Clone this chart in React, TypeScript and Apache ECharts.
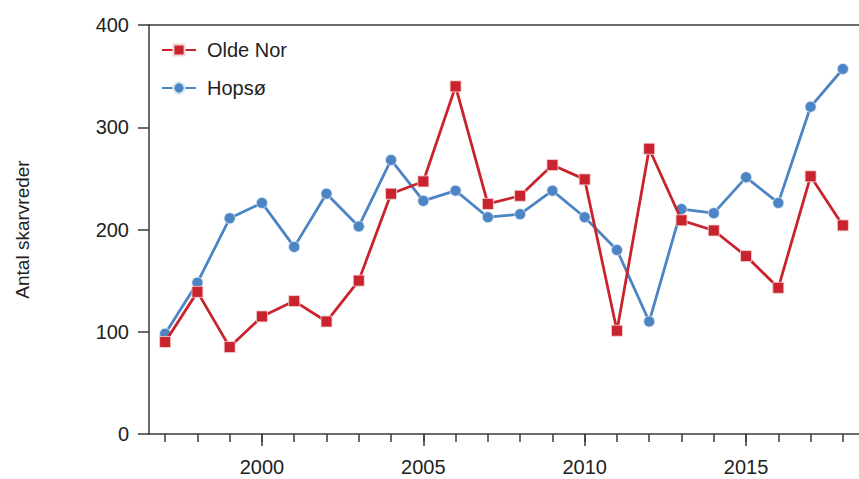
import React, { useEffect, useRef } from "react";
import * as echarts from "echarts";

// Survey years
const years: string[] = [
  "1997", "1998", "1999", "2000", "2001", "2002", "2003", "2004", "2005", "2006", "2007",
  "2008", "2009", "2010", "2011", "2012", "2013", "2014", "2015", "2016", "2017", "2018",
];

// Number of cormorant nests per colony
const oldeNor: number[] = [90, 139, 85, 115, 130, 110, 150, 235, 247, 340, 225, 233, 263, 249, 101, 279, 209, 199, 174, 143, 252, 204];
const hopso: number[] = [98, 148, 211, 226, 183, 235, 203, 268, 228, 238, 212, 215, 238, 212, 180, 110, 220, 216, 251, 226, 320, 357];

const yMin = 0;
const yMax = 400;
const yStep = 100;

const RED = "#c9232d";
const BLUE = "#4c84c4";
const AXIS = "#3a3a3a";
const FONT = "'Liberation Sans', Arial, Helvetica, sans-serif";

export default function App() {
  const ref = useRef<HTMLDivElement>(null);

  useEffect(() => {
    if (!ref.current) return;
    const chart = echarts.init(ref.current, undefined, { renderer: "svg" });
    const isMajor = (_i: number, v: string) => Number(v) % 5 === 0;
    const everyYear = () => true;

    chart.setOption({
      animation: false,
      backgroundColor: "#ffffff",
      grid: {
        left: 149,
        right: -9,
        top: 25,
        bottom: 45,
        show: false,
      },
      legend: {
        orient: "vertical",
        left: 156,
        top: 35,
        itemWidth: 34,
        itemHeight: 14,
        itemGap: 18,
        textStyle: { fontFamily: FONT, fontSize: 20, color: "#222", padding: [0, 0, 0, 6] },
        data: ["Olde Nor", "Hopsø"],
      },
      xAxis: [
        {
          type: "category",
          data: years,
          boundaryGap: true,
          axisLine: { show: true, onZero: false, lineStyle: { color: AXIS, width: 1.5 } },
          axisTick: { show: true, alignWithLabel: true, interval: everyYear, length: 8, lineStyle: { color: AXIS, width: 1.5 } },
          axisLabel: {
            interval: isMajor,
            margin: 23,
            fontFamily: FONT,
            fontSize: 20,
            color: "#222",
          },
          splitLine: { show: false },
        },
        {
          type: "category",
          data: years,
          position: "bottom",
          boundaryGap: true,
          axisLine: { show: false, onZero: false },
          axisTick: { show: true, alignWithLabel: true, interval: isMajor, length: 12, lineStyle: { color: AXIS, width: 1.5 } },
          axisLabel: { show: false },
          splitLine: { show: false },
        },
        {
          // top frame line
          type: "category",
          data: years,
          position: "top",
          boundaryGap: true,
          axisLine: { show: true, onZero: false, lineStyle: { color: AXIS, width: 1.5 } },
          axisTick: { show: false },
          axisLabel: { show: false },
          splitLine: { show: false },
        },
      ],
      yAxis: {
        type: "value",
        min: yMin,
        max: yMax,
        interval: yStep,
        name: "Antal skarvreder",
        nameLocation: "middle",
        nameGap: 117,
        nameRotate: 90,
        nameTextStyle: { fontFamily: FONT, fontSize: 19, color: "#222" },
        axisLine: { show: true, onZero: false, lineStyle: { color: AXIS, width: 1.5 } },
        axisTick: { show: true, length: 11, lineStyle: { color: AXIS, width: 1.5 } },
        axisLabel: { margin: 20, fontFamily: FONT, fontSize: 20, color: "#222" },
        splitLine: { show: false },
      },
      series: [
        {
          name: "Olde Nor",
          type: "line",
          xAxisIndex: 0,
          data: oldeNor,
          symbol: "rect",
          symbolSize: 11,
          lineStyle: { color: RED, width: 2.8 },
          itemStyle: { color: RED, borderColor: "#f3d6d6", borderWidth: 0.8 },
          z: 3,
        },
        {
          name: "Hopsø",
          type: "line",
          xAxisIndex: 0,
          data: hopso,
          symbol: "circle",
          symbolSize: 11,
          lineStyle: { color: BLUE, width: 2.8 },
          itemStyle: { color: BLUE, borderColor: "#dbe6f3", borderWidth: 0.8 },
          z: 2,
        },
      ],
    });

    return () => chart.dispose();
  }, []);

  return (
    <div
      ref={ref}
      style={{ position: "fixed", left: 0, top: 0, width: 859, height: 479, background: "#fff" }}
    />
  );
}
